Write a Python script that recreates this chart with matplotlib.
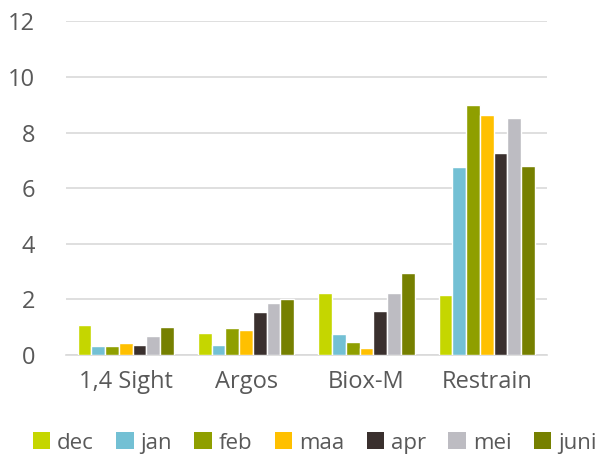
import matplotlib
matplotlib.use("Agg")
import matplotlib.pyplot as plt
import numpy as np

categories = ["1,4 Sight", "Argos", "Biox-M", "Restrain"]
months = ["dec", "jan", "feb", "maa", "apr", "mei", "juni"]
dec = [1.07, 0.80, 2.23, 2.15]
jan = [0.32, 0.37, 0.74, 6.76]
feb = [0.33, 0.97, 0.46, 8.98]
maa = [0.43, 0.90, 0.25, 8.63]
apr = [0.37, 1.53, 1.57, 7.26]
mei = [0.70, 1.88, 2.24, 8.52]
juni = [1.00, 2.00, 2.94, 6.79]
series = [dec, jan, feb, maa, apr, mei, juni]
colors = ["#C5D600", "#73C0D4", "#8F9F00", "#FFC000", "#3A302E", "#BDBCC2", "#768000"]
yticks = [0, 2, 4, 6, 8, 10, 12]

plt.rcParams['font.family'] = ['Open Sans', 'DejaVu Sans']
fig = plt.figure(figsize=(5.97, 4.62), dpi=100)
ax = fig.add_axes([0.11, 0.2316, 0.806, 0.722])

x = np.arange(len(categories))
n = len(series)
gw = 0.8
w = gw / n
for i, (s, c) in enumerate(zip(series, colors)):
    ax.bar(x - gw / 2 + w * (i + 0.5), s, width=w, color=c, edgecolor="white",
           linewidth=1.0, label=months[i], zorder=3)

ax.set_xlim(-0.5, len(categories) - 0.5)
ax.set_ylim(0, 12)
ax.set_yticks(yticks)
ax.set_yticklabels([str(t) for t in yticks])
ax.set_xticks(x)
ax.set_xticklabels(categories)
ax.grid(axis="y", color="#D9D9D9", linewidth=1.2, zorder=0)
for sp in ["top", "right", "left"]:
    ax.spines[sp].set_visible(False)
ax.spines["bottom"].set_color("#D9D9D9")
ax.spines["bottom"].set_linewidth(1.2)
ax.tick_params(axis="both", length=0, labelsize=17, colors="#595959")
ax.tick_params(axis="y", pad=22)
ax.tick_params(axis="x", pad=11)

leg = fig.legend(loc="center", bbox_to_anchor=(0.527, 0.041), ncol=7, frameon=False,
                 fontsize=16, handlelength=0.8, handleheight=0.8, handletextpad=0.3,
                 columnspacing=1.0, labelcolor="#595959", borderaxespad=0)
for h in leg.legend_handles:
    h.set_edgecolor("none")

fig.savefig("out.png", dpi=100)
